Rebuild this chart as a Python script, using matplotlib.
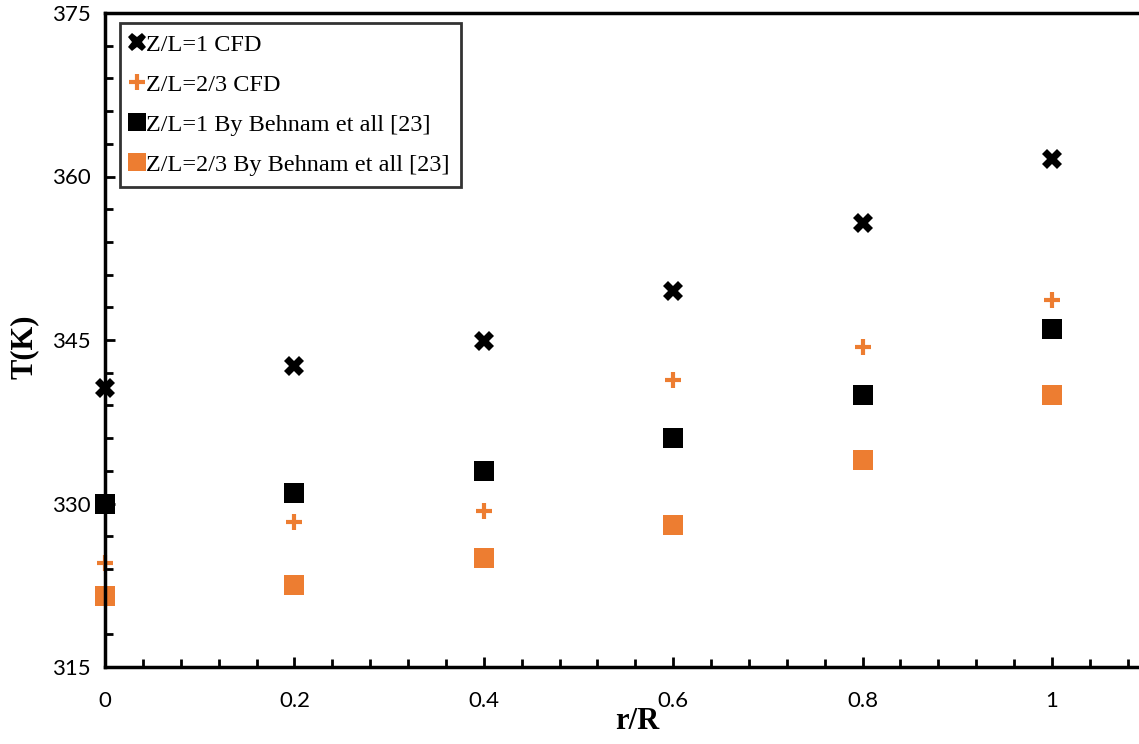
import matplotlib
matplotlib.use("Agg")
import matplotlib.pyplot as plt
from matplotlib.ticker import MultipleLocator

# Radial position
r_over_R = [0, 0.2, 0.4, 0.6, 0.8, 1.0]

# Temperature (K)
cfd_zl1 = [340.6, 342.6, 344.9, 349.5, 355.7, 361.6]
cfd_zl23 = [324.5, 328.3, 329.3, 341.3, 344.4, 348.7]
behnam_zl1 = [330.0, 331.0, 333.0, 336.0, 340.0, 346.0]
behnam_zl23 = [321.5, 322.5, 325.0, 328.0, 334.0, 340.0]

labels = [
    "Z/L=1 CFD",
    "Z/L=2/3 CFD",
    "Z/L=1 By Behnam et all [23]",
    "Z/L=2/3 By Behnam et all [23]",
]

orange = "#ED7D31"

fig = plt.figure(figsize=(11.39, 7.44), dpi=100)
ax = fig.add_axes([105 / 1139, 1 - 667 / 744, 1041.7 / 1139, (667 - 13) / 744])

ax.plot(r_over_R, cfd_zl1, linestyle="none", marker="X", markersize=14,
        color="black", markeredgewidth=0, label=labels[0])
ax.plot(r_over_R, cfd_zl23, linestyle="none", marker="+", markersize=12,
        color=orange, markeredgewidth=3, label=labels[1])
ax.plot(r_over_R, behnam_zl1, linestyle="none", marker="s", markersize=14,
        color="black", markeredgewidth=0, label=labels[2])
ax.plot(r_over_R, behnam_zl23, linestyle="none", marker="s", markersize=14,
        color=orange, markeredgewidth=0, label=labels[3])

for line in ax.get_lines():
    line.set_clip_on(False)

ax.set_xlim(0, 1.1)
ax.set_ylim(315, 375)
ax.xaxis.set_minor_locator(MultipleLocator(0.04))
ax.yaxis.set_major_locator(MultipleLocator(15))
ax.yaxis.set_minor_locator(MultipleLocator(3))
ax.set_xticks([0, 0.2, 0.4, 0.6, 0.8, 1.0])
ax.set_xticklabels(["0", "0.2", "0.4", "0.6", "0.8", "1"])

ax.tick_params(which="both", direction="in", width=2, top=False, right=False,
               labelsize=16)
ax.tick_params(which="major", length=7)
ax.tick_params(which="minor", length=6)
ax.tick_params(axis="y", pad=10)
ax.tick_params(axis="x", pad=17)
for lab in ax.get_xticklabels() + ax.get_yticklabels():
    lab.set_fontfamily("Lato")

for side in ["left", "bottom", "top"]:
    ax.spines[side].set_linewidth(2.5)
ax.spines["right"].set_visible(False)

ax.set_ylabel("T(K)", fontsize=22, fontweight="bold", family="Liberation Serif",
              va="center")
ax.yaxis.set_label_coords(-0.078, 0.49)
ax.set_xlabel("r/R", fontsize=22, fontweight="bold", family="Liberation Serif",
              va="center")
ax.xaxis.set_label_coords(0.511, -0.084)

leg = ax.legend(loc="upper left", bbox_to_anchor=(0.014, 0.985),
                prop={"family": "Liberation Serif", "size": 17.5},
                frameon=True, fancybox=False, edgecolor="black",
                handlelength=0.55, handletextpad=0.1, labelspacing=0.74,
                borderpad=0.45, markerscale=0.95, borderaxespad=0)
leg.get_frame().set_linewidth(2)

fig.savefig("out.png", dpi=100)
